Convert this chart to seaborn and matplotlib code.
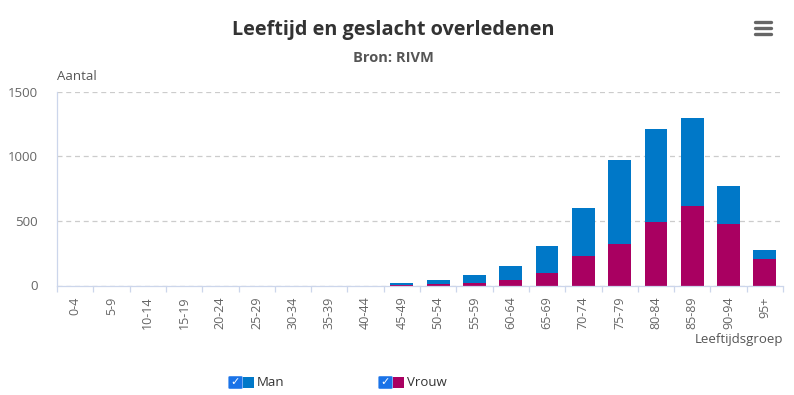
import numpy as np
import pandas as pd
import matplotlib.pyplot as plt
import seaborn as sns
from matplotlib.patches import FancyBboxPatch

# data
leeftijd = ['0-4', '5-9', '10-14', '15-19', '20-24', '25-29', '30-34', '35-39',
            '40-44', '45-49', '50-54', '55-59', '60-64', '65-69', '70-74',
            '75-79', '80-84', '85-89', '90-94', '95+']
vrouw = [0, 0, 0, 0, 0, 0, 0, 0, 0, 5, 10, 20, 40, 100, 225, 325, 496, 620, 473, 209]
man = [0, 0, 0, 0, 0, 0, 0, 0, 0, 11, 30, 65, 110, 210, 372, 644, 721, 682, 302, 70]

df = pd.DataFrame({'Leeftijdsgroep': leeftijd, 'Man': man, 'Vrouw': vrouw})
df['Totaal'] = df['Man'] + df['Vrouw']

kleur_man = '#0078c8'
kleur_vrouw = '#a90061'

sns.set_style('white')
plt.rcParams['font.family'] = ['Open Sans', 'DejaVu Sans']

fig = plt.figure(figsize=(7.94, 3.95), dpi=100)
ax = fig.add_axes([57 / 794, 1 - 285.5 / 395, 726 / 794, 193.5 / 395])

sns.barplot(data=df, x='Leeftijdsgroep', y='Totaal', color=kleur_man,
            width=0.63, saturation=1, linewidth=0, ax=ax)
sns.barplot(data=df, x='Leeftijdsgroep', y='Vrouw', color=kleur_vrouw,
            width=0.63, saturation=1, linewidth=0, ax=ax)

ax.set_ylim(0, 1500)
ax.set_xlim(-0.5, len(leeftijd) - 0.5)
ax.set_yticks([0, 500, 1000, 1500])
ax.set_xticks(np.arange(len(leeftijd) + 1) - 0.5, minor=True)
ax.yaxis.grid(True, linestyle=(0, (4, 3)), color='#cccccc', linewidth=0.9)
ax.set_axisbelow(True)
for s in ['top', 'right']:
    ax.spines[s].set_visible(False)
ax.spines['left'].set_color('#ccd6eb')
ax.spines['bottom'].set_color('#ccd6eb')
ax.spines['left'].set_linewidth(0.9)
ax.spines['bottom'].set_linewidth(0.9)
ax.tick_params(axis='x', which='major', rotation=90, labelsize=9, colors='#666666',
               length=0, pad=8)
ax.tick_params(axis='x', which='minor', length=4, width=0.9, color='#ccd6eb',
               direction='out', bottom=True)
ax.tick_params(axis='y', labelsize=9.5, colors='#666666', length=0, pad=14)
ax.set_xlabel('')
ax.set_ylabel('')

fig.text(57 / 794, 1 - 77 / 395, 'Aantal', fontsize=9.5, color='#555555', va='center')
fig.text(783 / 794, 1 - 339 / 395, 'Leeftijdsgroep', fontsize=9.5, color='#555555',
         ha='right', va='center')

fig.text(0.495, 1 - 30 / 395, 'Leeftijd en geslacht overledenen', fontsize=14.3,
         fontweight='bold', color='#333333', ha='center', va='center')
fig.text(0.495, 1 - 58 / 395, 'Bron: RIVM', fontsize=10.5, fontweight='bold',
         color='#555555', ha='center', va='center')

# hamburger menu icon
for yy in [22, 28, 34]:
    fig.add_artist(plt.Line2D([755 / 794, 771 / 794], [1 - yy / 395, 1 - yy / 395],
                              color='#666666', linewidth=2.4, solid_capstyle='round'))

# legend with checkboxes
for x0, naam, kleur in [(230, 'Man', kleur_man), (380, 'Vrouw', kleur_vrouw)]:
    fig.add_artist(FancyBboxPatch((x0 / 794, 1 - 388 / 395), 11 / 794, 11 / 395,
                                  boxstyle='round,pad=0.002', facecolor='#1a73e8',
                                  edgecolor='none', transform=fig.transFigure))
    fig.text((x0 + 5.5) / 794, 1 - 382.5 / 395, '✓', fontsize=8, color='white',
             fontweight='bold', ha='center', va='center', family='DejaVu Sans')
    fig.add_artist(plt.Rectangle(((x0 + 13) / 794, 1 - 388 / 395), 11 / 794, 11 / 395,
                                 facecolor=kleur, edgecolor='none',
                                 transform=fig.transFigure))
    fig.text((x0 + 27) / 794, 1 - 382.5 / 395, naam, fontsize=9.5, color='#333333',
             va='center')

fig.savefig('out.png', dpi=100)
